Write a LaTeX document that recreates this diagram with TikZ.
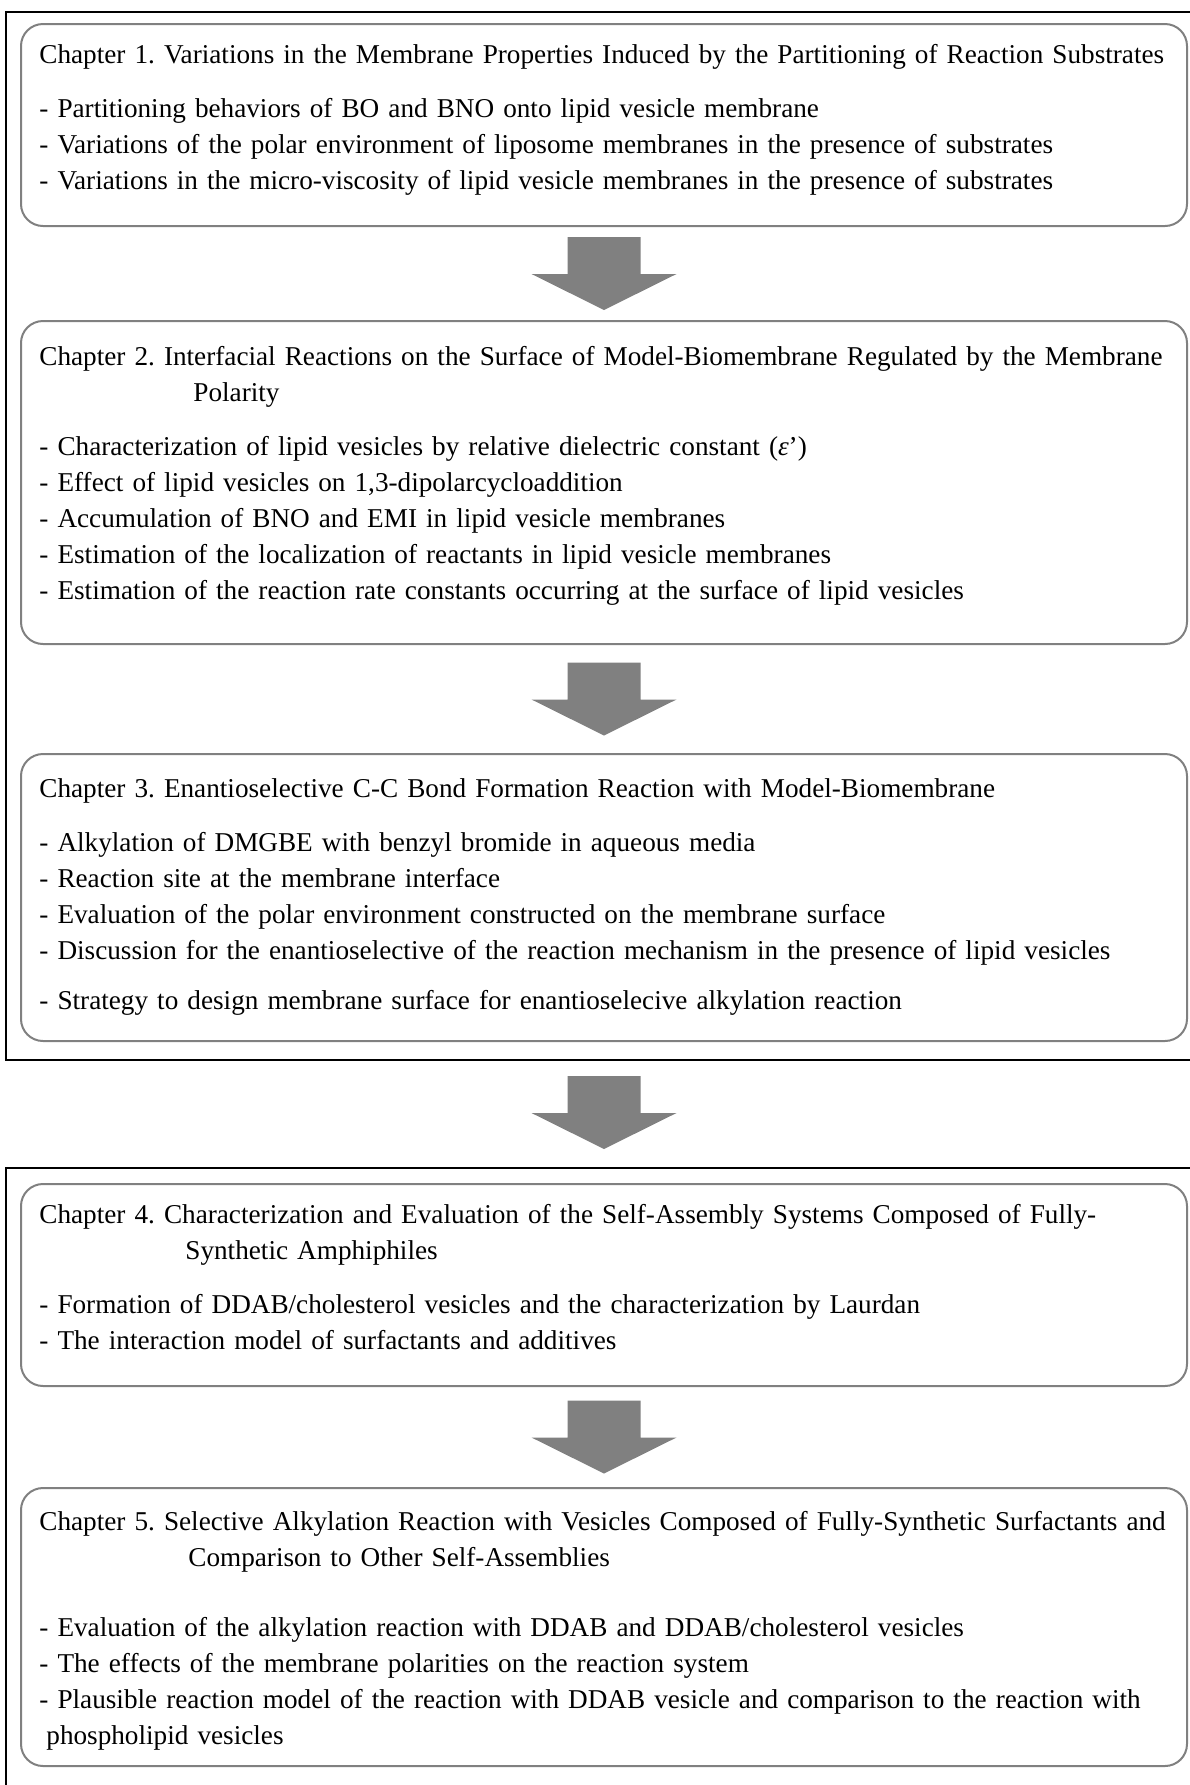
\documentclass[tikz,border=0pt]{standalone}
\usepackage{fontspec}
\setmainfont{Liberation Serif}
\usetikzlibrary{positioning,calc}

\definecolor{boxgray}{RGB}{128,128,128}
\definecolor{arrowgray}{RGB}{128,128,128}

\tikzset{
  chapbox/.style={draw=boxgray, line width=1pt, rounded corners=11pt,
    anchor=north west, minimum width=583pt, inner sep=0pt},
  chaptext/.style={anchor=north west, inner sep=0pt, align=left,
    text width=640pt, font=\fontsize{13.6}{18}\selectfont\frenchspacing},
  outerframe/.style={draw=black, line width=0.9pt},
  downarrow/.pic={
    \fill[arrowgray] (-36.5,-36.5) -- (36.5,-36.5) -- (36.5,0.5) -- (72.5,0.5)
      -- (0,36.5) -- (-72.5,0.5) -- (-36.5,0.5) -- cycle;
  }
}

\newcommand{\fullline}[1]{\makebox[564.5pt][s]{#1}}

\begin{document}
\begin{tikzpicture}[x=0.5pt, y=-0.5pt]
  \useasboundingbox (0,0) rectangle (1190,1785);
  \clip (0,0) rectangle (1190,1785);

  % two outer frames
  \draw[outerframe] (6,12) rectangle (1210,1060);
  \draw[outerframe] (6,1168) rectangle (1210,1810);

  % chapter boxes
  \node[chapbox, minimum height=101pt] (ch1) at (20,23) {};
  \node[chapbox, minimum height=161.5pt] (ch2) at (20,320) {};
  \node[chapbox, minimum height=143.5pt] (ch3) at (20,753) {};
  \node[chapbox, minimum height=101pt] (ch4) at (20,1183) {};
  \node[chapbox, minimum height=139pt] (ch5) at (20,1487) {};

  % contents
  \node[chaptext, below right=10.5pt and 9.5pt of ch1.north west] (ch1txt) {%
    Chapter 1. Variations in the Membrane Properties Induced by the Partitioning of Reaction Substrates\\[9pt]
    - Partitioning behaviors of BO and BNO onto lipid vesicle membrane\\
    - Variations of the polar environment of liposome membranes in the presence of substrates\\
    - Variations in the micro-viscosity of lipid vesicle membranes in the presence of substrates};

  \node[chaptext, below right=13pt and 9.5pt of ch2.north west] (ch2txt) {%
    Chapter 2. Interfacial Reactions on the Surface of Model-Biomembrane Regulated by the Membrane\\
    \hspace*{77pt}Polarity\\[9pt]
    - Characterization of lipid vesicles by relative dielectric constant (\textit{ε}’)\\
    - Effect of lipid vesicles on 1,3-dipolarcycloaddition\\
    - Accumulation of BNO and EMI in lipid vesicle membranes\\
    - Estimation of the localization of reactants in lipid vesicle membranes\\
    - Estimation of the reaction rate constants occurring at the surface of lipid vesicles};

  \node[chaptext, below right=12.5pt and 9.5pt of ch3.north west] (ch3txt) {%
    Chapter 3. Enantioselective C-C Bond Formation Reaction with Model-Biomembrane\\[9pt]
    - Alkylation of DMGBE with benzyl bromide in aqueous media\\
    - Reaction site at the membrane interface\\
    - Evaluation of the polar environment constructed on the membrane surface\\
    - Discussion for the enantioselective of the reaction mechanism in the presence of lipid vesicles\\[7pt]
    - Strategy to design membrane surface for enantioselecive alkylation reaction};

  \node[chaptext, below right=10.5pt and 9.5pt of ch4.north west] (ch4txt) {%
    \fullline{Chapter 4. Characterization and Evaluation of the Self-Assembly Systems Composed of Fully-}\\
    \hspace*{73pt}Synthetic Amphiphiles\\[9pt]
    - Formation of DDAB/cholesterol vesicles and the characterization by Laurdan\\
    - The interaction model of surfactants and additives};

  \node[chaptext, below right=12pt and 9.5pt of ch5.north west] (ch5txt) {%
    \fullline{Chapter 5. Selective Alkylation Reaction with Vesicles Composed of Fully-Synthetic Surfactants and}\\
    \hspace*{74.5pt}Comparison to Other Self-Assemblies\\[17pt]
    - Evaluation of the alkylation reaction with DDAB and DDAB/cholesterol vesicles\\
    - The effects of the membrane polarities on the reaction system\\
    - Plausible reaction model of the reaction with DDAB vesicle and comparison to the reaction with\\
    \hspace*{3.5pt}phospholipid vesicles};

  % arrows between chapters
  \pic at ($(ch1.south)!0.5!(ch2.north)$) {downarrow};
  \pic at ($(ch2.south)!0.5!(ch3.north)$) {downarrow};
  \pic at ($(ch3.south)!0.5!(ch4.north)$) {downarrow};
  \pic at ($(ch4.south)!0.5!(ch5.north)$) {downarrow};
\end{tikzpicture}
\end{document}
